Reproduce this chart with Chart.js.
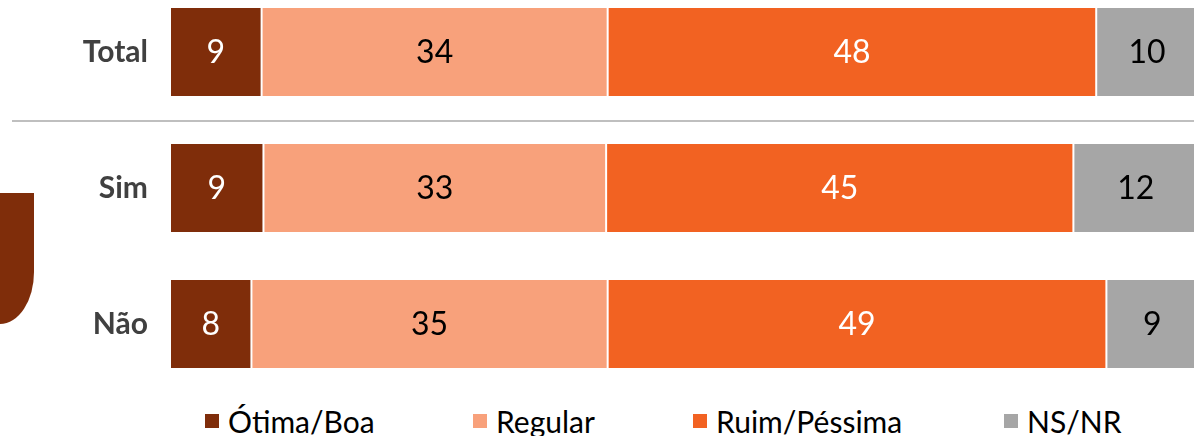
<!DOCTYPE html>
<html>
<head>
<meta charset="utf-8">
<script src="https://cdn.jsdelivr.net/npm/chart.js@4.4.1/dist/chart.umd.min.js"></script>
<style>
  html, body { margin: 0; padding: 0; background: #fff; overflow: hidden; }
  body { width: 1194px; height: 436px; position: relative; font-family: Lato, "Open Sans", sans-serif; }
  #wrap { position: absolute; left: 0; top: -16px; width: 1198px; height: 408px; }
  #deco { position: absolute; left: 0; top: 193px; width: 34px; height: 131px; background: #7F2D0A; border-bottom-right-radius: 34px 52px; }
  #sep { position: absolute; left: 12px; top: 120px; width: 1182px; height: 2px; background: #BFBFBF; }
  .lg { position: absolute; top: 403px; display: flex; align-items: center; font-size: 30px; color: #000; white-space: nowrap; }
  .lg i { display: inline-block; width: 14px; height: 14px; margin-right: 9px; }
</style>
</head>
<body>
<div id="deco"></div>
<div id="sep"></div>
<div id="wrap"><canvas id="bars" width="1198" height="408"></canvas></div>
<div id="legend"></div>
<script>
// categories and series
const categories = ['Total', 'Sim', 'Não'];
const seriesNames = ['Ótima/Boa', 'Regular', 'Ruim/Péssima', 'NS/NR'];
const otimaBoa = [9, 9, 8];
const regular = [34, 33, 35];
const ruimPessima = [48, 45, 49];
const nsNr = [10, 12, 9];

const seriesValues = [otimaBoa, regular, ruimPessima, nsNr];
const seriesColors = ['#7F2D0A', '#F8A17B', '#F26222', '#A6A6A6'];
const labelColors = ['#FFFFFF', '#000000', '#FFFFFF', '#000000'];
const legendLeft = [205, 473, 693, 1004];

// each bar fills 100%
const totals = categories.map((c, i) => seriesValues.reduce((s, arr) => s + arr[i], 0));

const valueLabels = {
    id: 'valueLabels',
    afterDatasetsDraw(chart) {
        const ctx = chart.ctx;
        ctx.save();
        ctx.font = '32px Lato, "Open Sans", sans-serif';
        ctx.textAlign = 'center';
        ctx.textBaseline = 'middle';
        chart.data.datasets.forEach((ds, di) => {
            chart.getDatasetMeta(di).data.forEach((bar, i) => {
                const p = bar.getProps(['x', 'base', 'y'], true);
                ctx.fillStyle = labelColors[di];
                ctx.fillText(String(seriesValues[di][i]), (p.x + p.base) / 2, p.y + 1);
            });
        });
        ctx.restore();
    }
};

new Chart(document.getElementById('bars'), {
    type: 'bar',
    data: {
        labels: categories,
        datasets: seriesNames.map((name, di) => ({
            label: name,
            data: seriesValues[di].map((v, i) => v / totals[i] * 100),
            backgroundColor: seriesColors[di],
            borderColor: '#FFFFFF',
            borderWidth: { left: 1, right: 1, top: 0, bottom: 0 },
            borderSkipped: false,
            barPercentage: 0.647,
            categoryPercentage: 1
        }))
    },
    options: {
        indexAxis: 'y',
        responsive: false,
        animation: false,
        devicePixelRatio: 1,
        layout: { padding: 0 },
        plugins: { legend: { display: false }, tooltip: { enabled: false } },
        scales: {
            x: { stacked: true, min: 0, max: 100, display: false },
            y: {
                stacked: true,
                grid: { display: false, drawTicks: false },
                border: { display: false },
                ticks: { color: '#404040', padding: 22, font: { family: 'Lato', size: 30, weight: 'bold' } },
                afterFit(scale) {
                    scale.width = 170;
                    scale.paddingTop = 0;
                    scale.paddingBottom = 0;
                }
            }
        }
    },
    plugins: [valueLabels]
});

const legend = document.getElementById('legend');
seriesNames.forEach((name, di) => {
    const item = document.createElement('div');
    item.className = 'lg';
    item.style.left = legendLeft[di] + 'px';
    item.innerHTML = '<i style="background:' + seriesColors[di] + '"></i>' + name;
    legend.appendChild(item);
});
</script>
</body>
</html>
